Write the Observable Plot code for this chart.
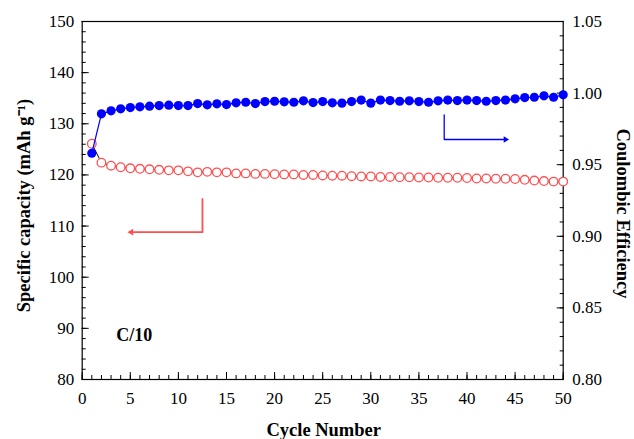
<!DOCTYPE html>
<html><head><meta charset="utf-8">
<script src="https://cdn.jsdelivr.net/npm/d3@7"></script>
<script src="https://cdn.jsdelivr.net/npm/@observablehq/plot@0.6"></script>
<style>html,body{margin:0;padding:0;background:#fff} svg{display:block}</style>
</head><body><div id="chart"></div>
<script>
const cycles = d3.range(1, 51);
const capacity = [126.1, 122.4, 121.8, 121.5, 121.3, 121.2, 121.1, 121.0, 120.9, 120.9,
  120.7, 120.5, 120.6, 120.5, 120.5, 120.3, 120.3, 120.2, 120.2, 120.15,
  120.1, 120.1, 120.0, 120.0, 119.9, 119.85, 119.85, 119.75, 119.7, 119.7,
  119.6, 119.6, 119.55, 119.55, 119.5, 119.5, 119.45, 119.45, 119.45, 119.4,
  119.3, 119.3, 119.25, 119.25, 119.2, 119.05, 118.9, 118.8, 118.7, 118.7];
const efficiency = [0.958, 0.9855, 0.9876, 0.989, 0.9899, 0.9904, 0.9909, 0.9913, 0.9916, 0.9913,
  0.9913, 0.9927, 0.9918, 0.9925, 0.992, 0.9932, 0.9936, 0.9927, 0.9941, 0.9943,
  0.9939, 0.9936, 0.9946, 0.9934, 0.9941, 0.9932, 0.993, 0.9941, 0.9951, 0.993,
  0.9951, 0.9948, 0.9943, 0.9946, 0.9941, 0.9936, 0.9946, 0.9951, 0.9948, 0.9951,
  0.9948, 0.9943, 0.9948, 0.9951, 0.996, 0.9969, 0.9971, 0.9981, 0.9971, 0.9988];

const xMajor = [0, 5, 10, 15, 20, 25, 30, 35, 40, 45, 50];
const xMinor = d3.range(0, 51, 1);
const capMajor = [80, 90, 100, 110, 120, 130, 140, 150];
const capMinor = d3.range(80, 151, 2);
const ceMajor = [0.80, 0.85, 0.90, 0.95, 1.00, 1.05];
const ceMinor = d3.range(80, 106, 1).map(v => v / 100);

const capDomain = [80, 150];
const ceDomain = [0.80, 1.05];
const toLeft = ce => capDomain[0] + (ce - ceDomain[0]) / (ceDomain[1] - ceDomain[0]) * (capDomain[1] - capDomain[0]);
const fromLeft = v => ceDomain[0] + (v - capDomain[0]) / (capDomain[1] - capDomain[0]) * (ceDomain[1] - ceDomain[0]);

const labelLeft = "Specific capacity (mAh g\u207B\u00B9)";
const labelRight = "Coulombic Efficiency";
const labelBottom = "Cycle Number";
const rateLabel = ["C/10"];
const ratePos = [5.4, 88.6];
const redArrow = [[12.5, 115.3], [12.5, 108.8], [5.1, 108.8]];
const blueArrow = [[37.63, 131.75], [37.63, 126.93], [44.0, 126.93]];

const data = cycles.map((c, i) => ({cycle: c, cap: capacity[i], ce: efficiency[i]}));
const RED = "#ff5050", BLUE = "#0000ff";
const MAJ = 7, MIN = 4;

const plot = Plot.plot({
  width: 634, height: 439,
  marginLeft: 81.7, marginRight: 71.3, marginTop: 21, marginBottom: 60,
  style: {fontFamily: "'Liberation Serif', 'Times New Roman', serif", fontSize: "17px", color: "#000", background: "#fff", overflow: "visible"},
  x: {domain: [0, 50]},
  y: {domain: capDomain},
  marks: [
    Plot.axisX(xMajor, {tickSize: 0, tickPadding: 12, label: null, fontSize: 17}),
    Plot.axisX(xMajor, {tickSize: MAJ, dy: -MAJ, fill: "none", label: null}),
    Plot.axisX(xMinor, {tickSize: MIN, dy: -MIN, fill: "none", label: null}),
    Plot.axisY(capMajor, {anchor: "left", tickSize: 0, tickPadding: 8, label: null, fontSize: 17}),
    Plot.axisY(capMajor, {anchor: "left", tickSize: MAJ, dx: MAJ, fill: "none", label: null}),
    Plot.axisY(capMinor, {anchor: "left", tickSize: MIN, dx: MIN, fill: "none", label: null}),
    Plot.axisY(ceMajor.map(toLeft), {anchor: "right", tickSize: 0, tickPadding: 9, label: null, fontSize: 17, tickFormat: d => fromLeft(d).toFixed(2)}),
    Plot.axisY(ceMajor.map(toLeft), {anchor: "right", tickSize: MAJ, dx: -MAJ, fill: "none", label: null}),
    Plot.axisY(ceMinor.map(toLeft), {anchor: "right", tickSize: MIN, dx: -MIN, fill: "none", label: null}),
    Plot.frame({stroke: "#000", strokeWidth: 1.2}),
    Plot.line(data, {x: "cycle", y: "cap", stroke: "#000", strokeWidth: 1}),
    Plot.dot(data, {x: "cycle", y: "cap", r: 4.3, stroke: RED, fill: "white", strokeWidth: 1.3}),
    Plot.line(data, {x: "cycle", y: d => toLeft(d.ce), stroke: BLUE, strokeWidth: 1.2}),
    Plot.dot(data, {x: "cycle", y: d => toLeft(d.ce), r: 4.6, fill: BLUE}),
    Plot.line(redArrow, {x: d => d[0], y: d => d[1], stroke: RED, strokeWidth: 1.8}),
    Plot.dot([redArrow[2]], {x: d => d[0], y: d => d[1], symbol: "triangle2", rotate: -90, r: 3.2, fill: RED}),
    Plot.line(blueArrow, {x: d => d[0], y: d => d[1], stroke: BLUE, strokeWidth: 1.3}),
    Plot.dot([blueArrow[2]], {x: d => d[0], y: d => d[1], symbol: "triangle2", rotate: 90, r: 3, fill: BLUE}),
    Plot.text(rateLabel, {x: ratePos[0], y: ratePos[1], fontWeight: "bold", fontSize: 18}),
    Plot.text([labelLeft], {frameAnchor: "left", textAnchor: "middle", lineAnchor: "middle", dx: -58, dy: 5, rotate: -90, fontWeight: "bold", fontSize: 18.5}),
    Plot.text([labelRight], {frameAnchor: "right", textAnchor: "middle", lineAnchor: "middle", dx: 60, dy: 13, rotate: 90, fontWeight: "bold", fontSize: 18.5}),
    Plot.text([labelBottom], {frameAnchor: "bottom", textAnchor: "middle", lineAnchor: "middle", dx: 1, dy: 51, fontWeight: "bold", fontSize: 18.5})
  ]
});
document.getElementById("chart").appendChild(plot);
</script>
</body></html>
